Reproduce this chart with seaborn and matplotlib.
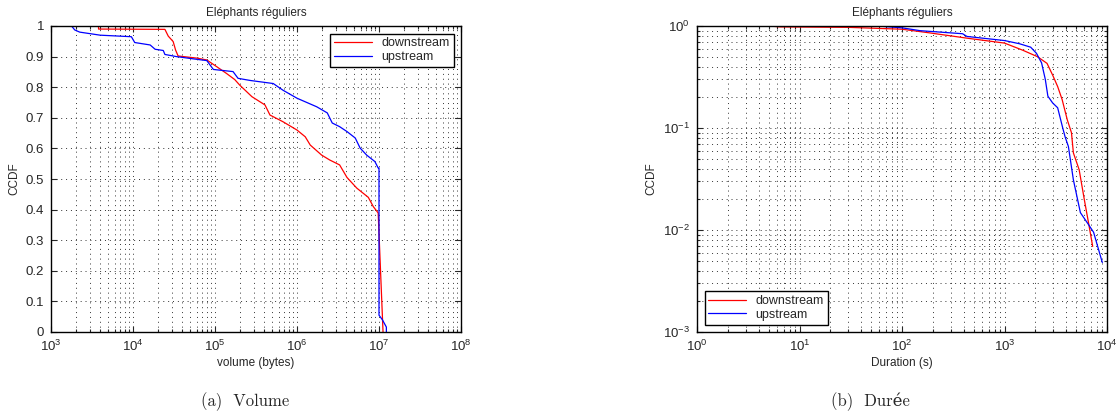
import numpy as np
import pandas as pd
import seaborn as sns
import matplotlib
matplotlib.use("Agg")
import matplotlib.pyplot as plt
from matplotlib.ticker import LogLocator, FixedLocator, NullFormatter

sns.set_style("ticks")
plt.rcParams['font.family'] = ['Liberation Sans', 'DejaVu Sans']
plt.rcParams['mathtext.fontset'] = 'custom'
plt.rcParams['mathtext.rm'] = 'Liberation Sans'
plt.rcParams['mathtext.default'] = 'regular'

# (a) volume CCDF
vol_down_x = [3800, 3800, 24500, 26900, 30900, 33100, 35500, 60300, 79400, 105000, 138000, 174000,
              200000, 282000, 407000, 468000, 676000, 1.0e6, 1.26e6, 1.45e6, 2.0e6, 2.51e6, 3.31e6,
              4.07e6, 5.37e6, 7.41e6, 8.51e6, 9.77e6, 1.12e7]
vol_down_y = [1.0, 0.99, 0.989, 0.967, 0.949, 0.921, 0.902, 0.895, 0.889, 0.867, 0.845, 0.825,
              0.807, 0.769, 0.742, 0.709, 0.687, 0.66, 0.638, 0.611, 0.578, 0.562, 0.546,
              0.505, 0.47, 0.44, 0.41, 0.389, 0.0]
vol_up_x = [1780, 1950, 2240, 3980, 9550, 10500, 16200, 18600, 23400, 24500, 33900, 60300, 79400,
            95500, 166000, 191000, 269000, 513000, 676000, 1.0e6, 1.74e6, 2.34e6, 2.69e6, 3.31e6,
            4.07e6, 5.13e6, 5.89e6, 7.08e6, 8.91e6, 9.77e6, 1.0e7, 1.0e7, 1.10e7, 1.23e7, 1.23e7]
vol_up_y = [1.0, 0.987, 0.98, 0.97, 0.965, 0.946, 0.938, 0.924, 0.92, 0.907, 0.90, 0.891, 0.887,
            0.858, 0.851, 0.829, 0.822, 0.812, 0.79, 0.764, 0.736, 0.716, 0.683, 0.671,
            0.655, 0.634, 0.601, 0.578, 0.557, 0.536, 0.536, 0.055, 0.04, 0.016, 0.0]

# (b) duration CCDF
dur_down_x = [1.8, 5.1, 6.5, 30, 100, 180, 430, 1000, 1500, 2100, 2600, 2950, 3300, 3650, 4100,
              4500, 4700, 5350, 6000, 6600, 7250]
dur_down_y = [1.0, 1.0, 0.98, 0.97, 0.93, 0.86, 0.76, 0.68, 0.58, 0.50, 0.43, 0.33, 0.255, 0.19,
              0.12, 0.09, 0.057, 0.039, 0.020, 0.0118, 0.0069]
dur_up_x = [1.8, 58, 75, 100, 150, 390, 430, 1000, 1400, 1800, 2050, 2300, 2500, 2650, 2950, 3300,
            3700, 3900, 4200, 4700, 5500, 6600, 7400, 9000]
dur_up_y = [1.0, 1.0, 0.98, 0.96, 0.90, 0.84, 0.79, 0.72, 0.67, 0.62, 0.54, 0.435, 0.30, 0.205,
            0.176, 0.158, 0.10, 0.082, 0.066, 0.031, 0.0148, 0.0113, 0.0095, 0.0048]

title = "Eléphants réguliers"
series = ["downstream", "upstream"]
palette = {"downstream": "#ff0000", "upstream": "#0000ff"}
grid_kw = dict(linestyle=(0, (1, 4)), color='0.2', linewidth=0.7)
leg_kw = dict(fontsize=9, frameon=True, fancybox=False, edgecolor='black', framealpha=1,
              borderpad=0.3, handlelength=3.0, labelspacing=0.15, borderaxespad=0.6)


def frame(xd, yd, xu, yu):
    d = pd.DataFrame({"x": xd, "y": yd, "flow": series[0]})
    u = pd.DataFrame({"x": xu, "y": yu, "flow": series[1]})
    return pd.concat([d, u], ignore_index=True)


def style(ax):
    ax.tick_params(direction='in', which='both', top=True, right=True,
                   labelsize=9.5, length=4, width=0.8, pad=5)
    ax.tick_params(which='minor', length=2)
    for s in ax.spines.values():
        s.set_linewidth(1.0)
        s.set_color('black')
    ax.grid(True, which='major', **grid_kw)
    ax.set_title(title, fontsize=8.5, pad=7)
    ax.set_ylabel("CCDF", fontsize=8.5)


fig = plt.figure(figsize=(11.16, 4.2), dpi=100)
ax1 = fig.add_axes([51 / 1116, 1 - 332 / 420, 410 / 1116, 306 / 420])
ax2 = fig.add_axes([697 / 1116, 1 - 332 / 420, 410 / 1116, 306 / 420])

vol = frame(vol_down_x, vol_down_y, vol_up_x, vol_up_y)
for name in series:
    sub = vol[vol["flow"] == name]
    sns.lineplot(x=sub["x"].values, y=sub["y"].values, color=palette[name], linewidth=0.9,
                 sort=False, estimator=None, ax=ax1, label=name)
ax1.set_xscale("log")
ax1.set_xlim(1e3, 1e8)
ax1.set_ylim(0, 1)
ax1.yaxis.set_major_locator(FixedLocator(np.arange(0, 1.01, 0.1)))
ax1.set_yticklabels(["0", "0.1", "0.2", "0.3", "0.4", "0.5", "0.6", "0.7", "0.8", "0.9", "1"])
ax1.xaxis.set_major_locator(LogLocator(base=10, numticks=10))
ax1.xaxis.set_minor_locator(LogLocator(base=10, subs=np.arange(2, 10), numticks=20))
ax1.xaxis.set_minor_formatter(NullFormatter())
style(ax1)
ax1.grid(True, which='minor', axis='x', **grid_kw)
ax1.set_xlabel("volume (bytes)", fontsize=8.5, labelpad=2)
ax1.legend(loc='upper right', **leg_kw)

dur = frame(dur_down_x, dur_down_y, dur_up_x, dur_up_y)
for name in series:
    sub = dur[dur["flow"] == name]
    sns.lineplot(x=sub["x"].values, y=sub["y"].values, color=palette[name], linewidth=0.9,
                 sort=False, estimator=None, ax=ax2, label=name)
ax2.set_xscale("log")
ax2.set_yscale("log")
ax2.set_xlim(1, 1e4)
ax2.set_ylim(1e-3, 1)
for a in (ax2.xaxis, ax2.yaxis):
    a.set_major_locator(LogLocator(base=10, numticks=10))
    a.set_minor_locator(LogLocator(base=10, subs=np.arange(2, 10), numticks=20))
    a.set_minor_formatter(NullFormatter())
style(ax2)
ax2.grid(True, which='minor', **grid_kw)
ax2.set_xlabel("Duration (s)", fontsize=8.5, labelpad=2)
ax2.legend(loc='lower left', **leg_kw)

cap = dict(fontsize=12, ha='center', va='center', family=['cmr10', 'DejaVu Serif'])
fig.text(245 / 1116, 1 - 402 / 420, "(a)  Volume", **cap)
fig.text(870 / 1116, 1 - 402 / 420, "(b)  Durée", **cap)

fig.savefig("out.png", dpi=100)
